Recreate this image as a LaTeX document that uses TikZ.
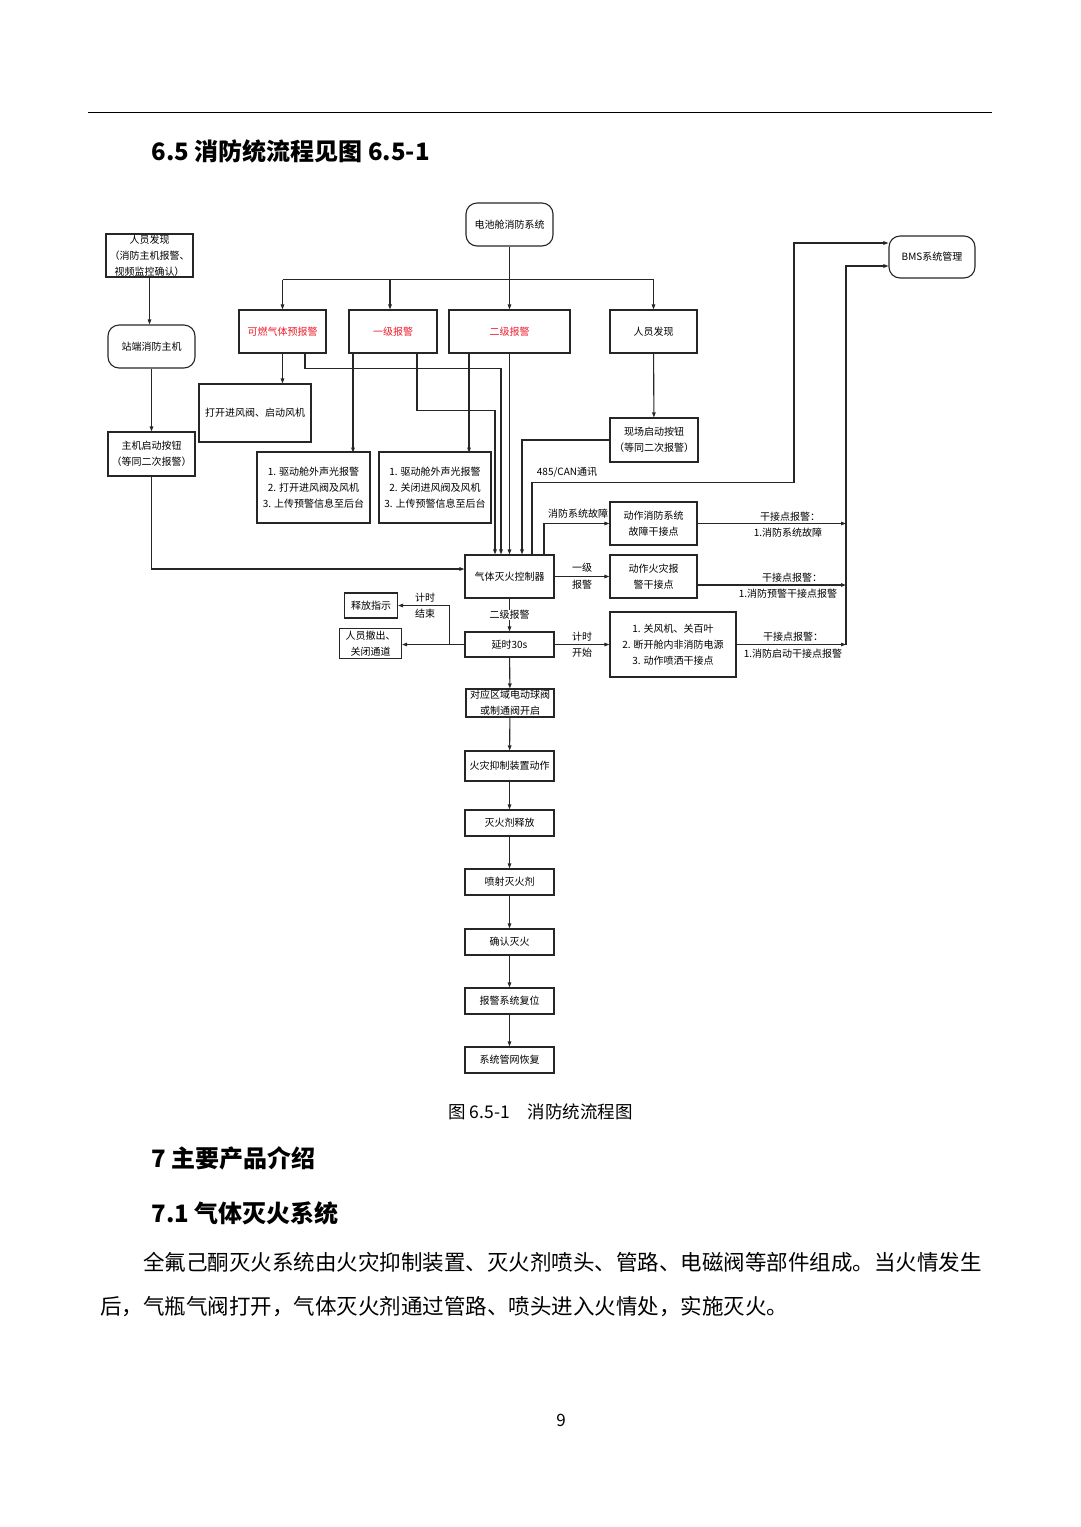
\documentclass[tikz,border=0pt]{standalone}
\usepackage{fontspec}
\setmainfont{Noto Sans CJK SC}
\usetikzlibrary{arrows.meta}
\definecolor{alarmred}{RGB}{236,28,44}

\begin{document}
\begin{tikzpicture}[x=1pt,y=-1pt,
  wire/.style={draw=black!85,line width=1.1pt},
  arr/.style={wire,-{Triangle[length=5pt,width=3.5pt]}},
  box/.style n args={2}{draw=black!85,line width=1.1pt,minimum width=#1,minimum height=#2,
    inner sep=0pt,align=center,font=\fontsize{10}{16}\selectfont},
  term/.style n args={2}{box={#1}{#2},rounded corners=11pt},
  lbl/.style={inner sep=0pt,font=\fontsize{10}{16}\selectfont}]
\useasboundingbox (0,0) rectangle (1080,1527);

% Page header
\draw[line width=0.8pt] (88,112) -- (992,112);
\node[anchor=west,font=\fontsize{24}{28}\selectfont\bfseries] (head) at (148,151) {6.5 消防统流程见图 6.5-1};

% Left column
\node[box={87pt}{43pt}] (p1) at (149.5,255.5) {人员发现\\（消防主机报警、\\视频监控确认）};
\node[term={87pt}{43pt}] (host) at (151.5,346.5) {站端消防主机};
\node[box={87pt}{44pt}] (hostbtn) at (151.5,454) {主机启动按钮\\（等同二次报警）};

% Alarm levels
\node[term={87pt}{43pt}] (bat) at (509.5,224.5) {电池舱消防系统};
\node[box={87pt}{43pt},text=alarmred] (gas) at (282.5,331.5) {可燃气体预报警};
\node[box={88pt}{43pt},text=alarmred] (lvl1) at (393,331.5) {一级报警};
\node[box={121pt}{43pt},text=alarmred] (lvl2) at (509.5,331.5) {二级报警};
\node[box={87pt}{43pt}] (p2) at (653.5,331.5) {人员发现};
\node[box={112pt}{58pt}] (fan) at (255,413) {打开进风阀、启动风机};
\node[box={113pt}{71pt}] (actA) at (313.5,487.5) {1. 驱动舱外声光报警\\2. 打开进风阀及风机\\3. 上传预警信息至后台};
\node[box={112pt}{71pt}] (actB) at (435,487.5) {1. 驱动舱外声光报警\\2. 关闭进风阀及风机\\3. 上传预警信息至后台};
\node[box={88pt}{44pt}] (sitebtn) at (654,440) {现场启动按钮\\（等同二次报警）};

% Controller and outputs
\node[box={89pt}{43pt}] (ctrl) at (509.5,576.5) {气体灭火控制器};
\node[box={87pt}{43pt}] (fault) at (653.5,523.5) {动作消防系统\\故障干接点};
\node[box={87pt}{43pt}] (firealm) at (653.5,576.5) {动作火灾报\\警干接点};
\node[box={89pt}{25pt}] (delay) at (509.5,644.5) {延时30s};
\node[box={126pt}{65pt}] (shut) at (673,644.5) {1. 关风机、关百叶\\2. 断开舱内非消防电源\\3. 动作喷洒干接点};
\node[term={86pt}{42pt}] (bms) at (932,257) {BMS系统管理};
\node[box={53pt}{25pt}] (release) at (371,605.5) {释放指示};
\node[box={62pt}{30pt}] (evac) at (370.5,643.5) {人员撤出、\\关闭通道};
\coordinate (rail) at (846,266);

% Release chain
\node[box={88pt}{28pt}] (valve) at (510,703) {对应区域电动球阀\\或制通阀开启};
\node[box={89pt}{30pt}] (s1) at (509.5,766) {火灾抑制装置动作};
\node[box={89pt}{26pt}] (s2) at (509.5,823) {灭火剂释放};
\node[box={89pt}{26pt}] (s3) at (509.5,882) {喷射灭火剂};
\node[box={89pt}{26pt}] (s4) at (509.5,942) {确认灭火};
\node[box={89pt}{26pt}] (s5) at (509.5,1001) {报警系统复位};
\node[box={89pt}{26pt}] (s6) at (509.5,1060) {系统管网恢复};

% Connectors, left column
\draw[arr] (p1.south) -- (p1.south |- host.north);
\draw[arr] (host) -- (hostbtn);
\draw[arr] (hostbtn.south) |- ([yshift=7.5pt]ctrl.west);

% Connectors, alarm levels
\draw[wire] (bat.south) -- ++(0,33) coordinate (bus);
\draw[wire] (bus -| gas.north) -- (bus -| p2.north);
\draw[arr] (bus -| gas.north) -- (gas.north);
\draw[arr] ([xshift=-3pt]bus -| lvl1.north) -- ([xshift=-3pt]lvl1.north);
\draw[arr] (bus) -- (lvl2.north);
\draw[arr] (bus -| p2.north) -- (p2.north);
\draw[arr] (gas.south) -- (gas.south |- fan.north);
\draw[arr] ([xshift=22.5pt]gas.south) -- ++(0,15) -| ([xshift=-8.5pt]ctrl.north);
\draw[arr] ([xshift=-40pt]lvl1.south) -- ++(0,99);
\draw[arr] ([xshift=24pt]lvl1.south) -- ++(0,57) -| ([xshift=-14.5pt]ctrl.north);
\draw[arr] ([xshift=-40.5pt]lvl2.south) -- ++(0,99);
\draw[arr] (lvl2.south) -- (ctrl.north);
\draw[arr] (p2) -- (sitebtn);
\draw[arr] (sitebtn.west) -| ([xshift=12.5pt]ctrl.north);

% Connectors, controller
\draw[arr] ([xshift=22.5pt]ctrl.north) -- ++(0,-72) -| (794,243) -- ([yshift=14pt]bms.west);
\node[lbl] (canlbl) at (567,472) {485/CAN通讯};
\draw[arr] ([xshift=34.5pt]ctrl.north) |- (fault.west);
\node[lbl] (faultlbl) at (578,514) {消防系统故障};
\draw[arr] (ctrl.east) -- (firealm.west);
\node[lbl] (l1a) at (582,568) {一级};
\node[lbl] (l1b) at (582,585) {报警};
\draw[arr] (ctrl) -- (delay) node[midway,lbl,fill=white] {二级报警};
\draw[arr] (delay.east) -- (shut.west);
\node[lbl] (t1a) at (582,637) {计时};
\node[lbl] (t1b) at (582,653) {开始};
\draw[arr] (delay.west) -- (delay.west -| evac.east);
\draw[arr] ([xshift=-15pt]delay.west) |- (release.east);
\node[lbl] (t2a) at (425,598) {计时};
\node[lbl] (t2b) at (425,614) {结束};

% Dry contacts to BMS
\draw[arr] (fault.east) -- (fault.east -| rail);
\node[lbl] (d1a) at (790,517) {干接点报警：};
\node[lbl] (d1b) at (788,533) {1.消防系统故障};
\draw[arr] ([yshift=-8.5pt]firealm.east) -- ([yshift=-8.5pt]firealm.east -| rail);
\node[lbl] (d2a) at (792,578) {干接点报警：};
\node[lbl] (d2b) at (788,594) {1.消防预警干接点报警};
\draw[arr] (shut.east) -- (shut.east -| rail);
\node[lbl] (d3a) at (793,637) {干接点报警：};
\node[lbl] (d3b) at (793,654) {1.消防启动干接点报警};
\draw[arr] (shut.east -| rail) |- ([yshift=-9pt]bms.west);

% Release chain connectors
\draw[arr] (delay) -- (valve);
\draw[arr] (valve) -- (s1);
\draw[arr] (s1) -- (s2);
\draw[arr] (s2) -- (s3);
\draw[arr] (s3) -- (s4);
\draw[arr] (s4) -- (s5);
\draw[arr] (s5) -- (s6);

% Caption and following text
\node[font=\fontsize{17.5}{20}\selectfont] (cap) at (540.5,1112) {图 6.5-1\quad 消防统流程图};
\node[anchor=west,font=\fontsize{24}{28}\selectfont\bfseries] (sec7) at (148,1158) {7 主要产品介绍};
\node[anchor=west,font=\fontsize{24}{28}\selectfont\bfseries] (sec71) at (148,1213) {7.1 气体灭火系统};
\node[anchor=west,inner sep=0pt,font=\fontsize{21.5}{26}\selectfont] (para1) at (143,1262) {全氟己酮灭火系统由火灾抑制装置、灭火剂喷头、管路、电磁阀等部件组成。当火情发生};
\node[anchor=west,inner sep=0pt,font=\fontsize{21.5}{26}\selectfont] (para2) at (100,1307) {后，气瓶气阀打开，气体灭火剂通过管路、喷头进入火情处，实施灭火。};
\node[font=\fontsize{17}{20}\selectfont] (pageno) at (561,1420) {9};
\end{tikzpicture}
\end{document}
